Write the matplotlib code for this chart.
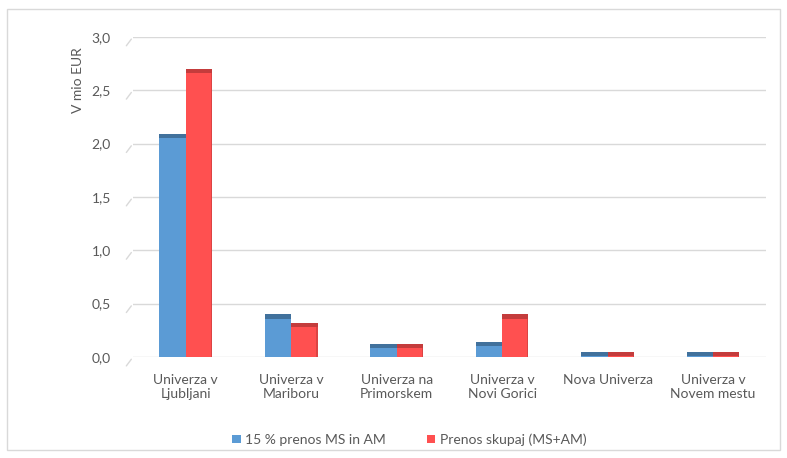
import numpy as np
import matplotlib.pyplot as plt
from matplotlib.patches import Rectangle
from matplotlib.ticker import FuncFormatter

plt.rcParams['font.family'] = ['Lato', 'DejaVu Sans']

categories = ['Univerza v\nLjubljani', 'Univerza v\nMariboru', 'Univerza na\nPrimorskem',
              'Univerza v\nNovi Gorici', 'Nova Univerza', 'Univerza v\nNovem mestu']
prenos_15 = [2.05, 0.36, 0.085, 0.10, 0.005, 0.005]
prenos_skupaj = [2.66, 0.28, 0.085, 0.36, 0.005, 0.005]
series_names = ['15 % prenos MS in AM', 'Prenos skupaj (MS+AM)']
y_ticks = [0.0, 0.5, 1.0, 1.5, 2.0, 2.5, 3.0]

blue, blue_top = '#5B9BD5', '#41719C'
red, red_top = '#FF5050', '#C43C3C'
grey_text = '#595959'
grid_col = '#D9D9D9'

fig = plt.figure(figsize=(7.87, 4.58), dpi=100)
ax = fig.add_axes([0.169, 0.2205, 0.804, 0.699])

x = np.arange(len(categories))
w = 0.25
cap = 0.04

# front faces
ax.bar(x - w / 2, prenos_15, w, color=blue, zorder=3, label=series_names[0])
ax.bar(x + w / 2, prenos_skupaj, w, color=red, zorder=3, label=series_names[1])
# darker top faces to imitate the 3D look
ax.bar(x - w / 2, [cap] * len(x), w, bottom=prenos_15, color=blue_top, zorder=3)
ax.bar(x + w / 2, [cap] * len(x), w, bottom=prenos_skupaj, color=red_top, zorder=3)
# thin shaded right side on the red bars
ax.bar(x + w - 0.012, np.array(prenos_skupaj) + cap, 0.012, align='edge',
       color=red_top, alpha=0.6, zorder=3)

ax.set_xlim(-0.5, len(categories) - 0.5)
ax.set_ylim(0, 3.0)
ax.set_yticks(y_ticks)
ax.yaxis.set_major_formatter(FuncFormatter(lambda v, p: f'{v:.1f}'.replace('.', ',')))
ax.set_xticks(x)
ax.set_xticklabels(categories)
ax.grid(axis='y', color=grid_col, linewidth=1.0, zorder=0)
ax.tick_params(axis='y', length=0, pad=16, labelsize=10, labelcolor=grey_text)
ax.tick_params(axis='x', length=0, pad=12, labelsize=10, labelcolor=grey_text)
for s in ax.spines.values():
    s.set_visible(False)

# little slanted ticks at the wall edge
for v in y_ticks:
    ax.annotate('', xy=(0, v), xycoords=('axes fraction', 'data'),
                xytext=(-6, -8), textcoords='offset points',
                arrowprops=dict(arrowstyle='-', color=grid_col, lw=1.0),
                annotation_clip=False)

fig.text(0.099, 0.825, 'V mio EUR', rotation=90, ha='center', va='center',
         fontsize=10, color=grey_text)

leg = fig.legend(loc='center', bbox_to_anchor=(0.52, 0.04), ncol=2, frameon=False,
                 fontsize=10, handlelength=0.6, handleheight=0.6, handletextpad=0.3,
                 columnspacing=3.0)
for t in leg.get_texts():
    t.set_color(grey_text)

fig.patches.append(Rectangle((0.009, 0.017), 0.982, 0.963, transform=fig.transFigure,
                             fill=False, edgecolor=grid_col, linewidth=1.0))

fig.savefig('out.png', dpi=100)
